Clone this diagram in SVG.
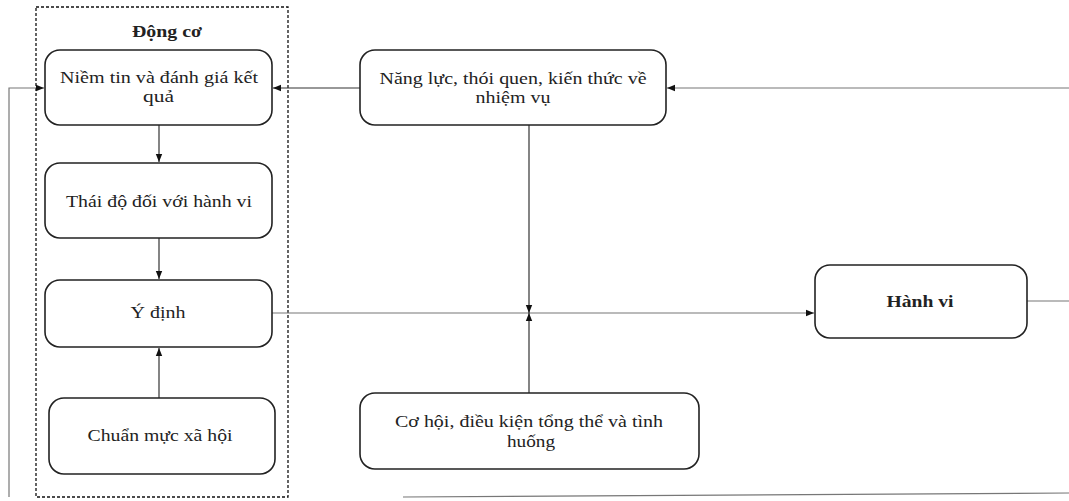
<svg xmlns="http://www.w3.org/2000/svg" width="1069" height="501" viewBox="0 0 1069 501">
<style>
.box{fill:#fff;stroke:#222;stroke-width:1.6}
.t{font-family:"Liberation Serif","Times New Roman",serif;font-size:17px;fill:#222;text-anchor:middle}
.b{font-weight:bold}
.c{fill:none;stroke:#333;stroke-width:1.2}
.g{fill:none;stroke:#777;stroke-width:1.2}
</style>
<defs>
<marker id="a" viewBox="0 0 10 10" refX="10" refY="5" markerWidth="7" markerHeight="7" orient="auto"><path d="M0,1 L10,5 L0,9 z" fill="#111"/></marker>
</defs>
<rect x="36" y="7" width="252" height="490" fill="none" stroke="#111" stroke-width="1.3" stroke-dasharray="3,2"/>
<text class="t b" x="167" y="37" textLength="70" lengthAdjust="spacingAndGlyphs">Động cơ</text>
<g id="connectors">
<polyline class="g" points="9,497 9,88 44,88" marker-end="url(#a)"/>
<line class="c" x1="360" y1="88" x2="273" y2="88" marker-end="url(#a)"/>
<line class="g" x1="1069" y1="88" x2="667" y2="88" marker-end="url(#a)"/>
<line class="c" x1="159" y1="125" x2="159" y2="162" marker-end="url(#a)"/>
<line class="c" x1="159" y1="238" x2="159" y2="279" marker-end="url(#a)"/>
<line class="c" x1="159" y1="398" x2="159" y2="348" marker-end="url(#a)"/>
<line class="g" x1="272" y1="313" x2="814" y2="313" marker-end="url(#a)"/>
<line class="c" x1="529" y1="125" x2="529" y2="313" marker-end="url(#a)"/>
<line class="c" x1="529" y1="393" x2="529" y2="313" marker-end="url(#a)"/>
<line class="g" x1="1027" y1="301" x2="1069" y2="301"/>
<line class="g" x1="403" y1="497" x2="1069" y2="493" stroke-width="1.6"/>
</g>
<g id="n1"><rect class="box" x="45" y="50" width="227" height="75" rx="15"/><text class="t" x="159" y="83" textLength="198" lengthAdjust="spacingAndGlyphs">Niềm tin và đánh giá kết</text><text class="t" x="158.5" y="102" textLength="31" lengthAdjust="spacingAndGlyphs">quả</text></g>
<g id="n2"><rect class="box" x="45" y="163" width="227" height="75" rx="15"/><text class="t" x="159" y="207" textLength="186" lengthAdjust="spacingAndGlyphs">Thái độ đối với hành vi</text></g>
<g id="n3"><rect class="box" x="45" y="280" width="227" height="67" rx="15"/><text class="t" x="158" y="318" textLength="55" lengthAdjust="spacingAndGlyphs">Ý định</text></g>
<g id="n4"><rect class="box" x="49" y="398" width="226" height="76" rx="15"/><text class="t" x="160" y="441" textLength="145" lengthAdjust="spacingAndGlyphs">Chuẩn mực xã hội</text></g>
<g id="n5"><rect class="box" x="360" y="50" width="306" height="75" rx="15"/><text class="t" x="513" y="84" textLength="267" lengthAdjust="spacingAndGlyphs">Năng lực, thói quen, kiến thức về</text><text class="t" x="513" y="103" textLength="75" lengthAdjust="spacingAndGlyphs">nhiệm vụ</text></g>
<g id="n6"><rect class="box" x="360" y="393" width="339" height="76" rx="15"/><text class="t" x="529" y="427" textLength="268" lengthAdjust="spacingAndGlyphs">Cơ hội, điều kiện tổng thể và tình</text><text class="t" x="531" y="447" textLength="48" lengthAdjust="spacingAndGlyphs">huống</text></g>
<g id="n7"><rect class="box" x="815" y="265" width="212" height="73" rx="15"/><text class="t b" x="920" y="307" textLength="67" lengthAdjust="spacingAndGlyphs">Hành vi</text></g>
</svg>
